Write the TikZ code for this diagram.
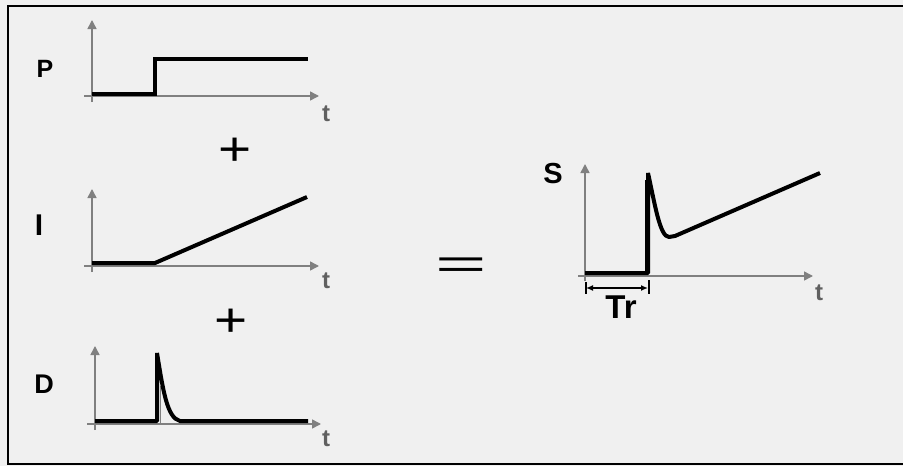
\documentclass[tikz,border=0pt]{standalone}
\usepackage{fontspec}
\setmainfont{Liberation Sans}
\usepackage{graphicx}
\usetikzlibrary{arrows.meta}
\definecolor{bg}{HTML}{F0F0F0}
\definecolor{axisgray}{HTML}{808080}
\definecolor{tgray}{HTML}{606060}
\tikzset{
  axisline/.style={draw=axisgray, line width=1.5pt, -{Triangle[length=9pt,width=9pt]}},
  sig/.style={line width=4pt, line join=bevel},
  lbl/.style={font=\fontsize{25}{25}\selectfont\bfseries, inner sep=0},
  tlbl/.style={font=\fontsize{24}{24}\selectfont\bfseries, text=tgray, inner sep=0},
  op/.style={font=\fontsize{54}{54}\selectfont, inner sep=0},
}
\begin{document}
\begin{tikzpicture}[x=1pt,y=-1pt]
\useasboundingbox (0,0) rectangle (903,466);
\fill[bg] (0,0) rectangle (903,466);
\draw[line width=2pt] (8,6) rectangle (930,464);

% ---- P ----
\coordinate (Py0) at (92,102); \coordinate (Py1) at (92,20);
\coordinate (Px0) at (84,96);  \coordinate (Px1) at (319,96);
\draw[axisline] (Py0) -- (Py1);
\draw[axisline] (Px0) -- (Px1);
\draw[sig, line join=miter] (92,94) -- (155,94) -- (155,59) -- (308,59);
\node[lbl] (Plbl) at (45,69) {P};
\node[tlbl] (Pt) at (326,114) {t};

\node[op] (plus1) at (235,152) {\scalebox{1.05}[0.88]{+}};

% ---- I ----
\coordinate (Iy0) at (92,272); \coordinate (Iy1) at (92,189);
\coordinate (Ix0) at (84,266); \coordinate (Ix1) at (319,266);
\draw[axisline] (Iy0) -- (Iy1);
\draw[axisline] (Ix0) -- (Ix1);
\draw[sig] (92,263) -- (155,263) -- (307,197);
\node[lbl, font=\fontsize{30}{30}\selectfont\bfseries] (Ilbl) at (39,225) {I};
\node[tlbl] (It) at (326,281) {t};

\node[op] (plus2) at (231,323) {\scalebox{1.05}[0.88]{+}};

% ---- D ----
\coordinate (Dy0) at (95,430); \coordinate (Dy1) at (95,346);
\coordinate (Dx0) at (87,424); \coordinate (Dx1) at (321,424);
\draw[axisline] (Dy0) -- (Dy1);
\draw[axisline] (Dx0) -- (Dx1);
\draw[axisgray, line width=0.8pt] (160,386) -- (160,424);
\draw[sig] (95,421) -- (157,421) -- (157,353)
  .. controls (163,390) and (167,418) .. (180,421) -- (308,421);
\node[lbl, font=\fontsize{27}{27}\selectfont\bfseries] (Dlbl) at (44,384) {D};
\node[tlbl] (Dt) at (326,439) {t};

% ---- equals ----
\node[op, font=\fontsize{42}{42}\selectfont] (eq) at (461,268) {\scalebox{2.1}[1]{=}};

% ---- S ----
\coordinate (Sy0) at (585,281); \coordinate (Sy1) at (585,164);
\coordinate (Sx0) at (578,276); \coordinate (Sx1) at (813,276);
\draw[axisline] (Sy0) -- (Sy1);
\draw[axisline] (Sx0) -- (Sx1);
\draw[sig] (585,273) -- (648,273) -- (648,173)
  .. controls (655,205) and (660,237) .. (669,237) -- (675,236) -- (820,173);
\draw[line width=5pt] (647,273) -- (647,180);
\node[lbl, font=\fontsize{29}{29}\selectfont\bfseries] (Slbl) at (553,174) {S};
\node[tlbl] (St) at (819,293) {t};

% ---- Tr dimension ----
\coordinate (Tra) at (586,288); \coordinate (Trb) at (648,288);
\draw[line width=1.2pt] (586,282) -- (586,294);
\draw[line width=1.2pt] (649,280) -- (649,294);
\draw[line width=1.5pt, {Latex[length=7pt,width=6pt]}-{Latex[length=7pt,width=6pt]}] (Tra) -- (Trb);
\node[lbl, font=\fontsize{33}{33}\selectfont\bfseries] (Tr) at (621,307) {Tr};
\end{tikzpicture}
\end{document}
